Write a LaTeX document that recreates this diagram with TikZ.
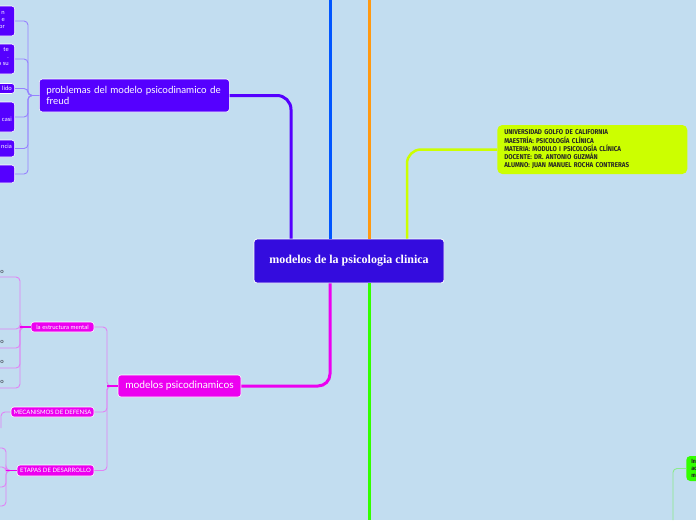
\documentclass[tikz,border=0pt]{standalone}
\usepackage{fontspec}
\setmainfont{Lato}
\newfontfamily\serf{Liberation Serif}
\newfontfamily\condf[FakeStretch=0.89]{Fira Sans}
\definecolor{bg}{RGB}{194,221,240}
\definecolor{cent}{RGB}{52,12,222}
\definecolor{vio}{RGB}{85,0,255}
\definecolor{viol}{RGB}{150,130,255}
\definecolor{blu}{RGB}{0,85,255}
\definecolor{ora}{RGB}{255,153,17}
\definecolor{ygr}{RGB}{204,255,0}
\definecolor{mag}{RGB}{236,0,240}
\definecolor{magl}{RGB}{225,130,245}
\definecolor{grn}{RGB}{51,255,0}
\definecolor{grnl}{RGB}{140,235,140}
\definecolor{leaftxt}{RGB}{50,50,60}
\tikzset{
  x=1pt,y=-1pt,
  box/.style={rounded corners=3pt, draw=white, line width=0.6pt, inner sep=0pt},
  vbox/.style={box, fill=vio, text=white, font=\fontsize{6}{7}\selectfont},
  mbox/.style={box, fill=mag, text=white, font=\fontsize{6}{7}\selectfont},
  thick line/.style={line width=3pt, line cap=butt},
  thin line/.style={line width=0.9pt, rounded corners=4pt},
  leaf/.style={inner sep=0pt, text=leaftxt, font=\fontsize{6}{7}\selectfont},
  frag/.style={inner sep=0pt, text=white, align=right, font=\fontsize{6}{7}\selectfont},
}
\begin{document}
\begin{tikzpicture}
\useasboundingbox (0,0) rectangle (696,520);
\fill[bg] (0,0) rectangle (696,520);
\clip (0,0) rectangle (696,520);

% coordinates for x positions / free ends
\coordinate (xp) at (291,0);
\coordinate (bt) at (330,0);
\coordinate (ot) at (369,0);
\coordinate (xy) at (407,0);
\coordinate (gb) at (369,520);

% central node
\node[box, fill=cent, line width=0.8pt, minimum width=190, minimum height=44,
      text=white, font=\serf\bfseries\fontsize{12}{14}\selectfont] (c) at (349,261)
      {modelos de la psicologia clinica};

% main branches
\node[box, fill=vio, minimum width=190, minimum height=33, anchor=west,
      text=white, align=left, text width=176, inner xsep=7pt,
      font=\fontsize{9.8}{11}\selectfont] (p) at (39,95.5)
      {problemas del modelo psicodinamico de freud};
\node[box, fill=mag, minimum width=123, minimum height=22,
      text=white, font=\fontsize{10.2}{12}\selectfont] (m) at (179.5,386)
      {modelos psicodinamicos};
\node[box, draw=none, fill=ygr, rounded corners=5pt, minimum width=190, minimum height=49,
      anchor=west, align=left, text width=176, inner xsep=7pt,
      text=black!85, font=\condf\bfseries\fontsize{7}{8.3}\selectfont] (u) at (497,149.5)
      {UNIVERSIDAD GOLFO DE CALIFORNIA\\
       MAESTRÍA: PSICOLOGÍA CLÍNICA\\
       MATERIA: MODULO I PSICOLOGÍA CLÍNICA\\
       DOCENTE: DR. ANTONIO GUZMÁN\\
       ALUMNO: JUAN MANUEL ROCHA CONTRERAS};
\node[box, draw=none, fill=grn, rounded corners=4pt, minimum width=30, minimum height=25,
      anchor=west, align=left, text width=20, inner xsep=3pt,
      text=black!85, font=\condf\bfseries\fontsize{6}{7}\selectfont] (g) at (686,468.5)
      {In\\ac\\mo};

\draw[thick line, vio, rounded corners=14pt] (c.north -| xp) |- (p.east);
\draw[thick line, blu] (c.north -| bt) -- (bt);
\draw[thick line, ora] (c.north -| ot) -- (ot);
\draw[thick line, ygr, line width=2.5pt, rounded corners=14pt] (c.north -| xy) |- (u.west);
\draw[thick line, mag, rounded corners=12pt] (c.south -| bt) |- (m.east);
\draw[thick line, grn] (c.south -| ot) -- (gb);
\coordinate (gd) at (673,520);
\draw[thin line, grnl] (g.west) -| (gd);

% children of problemas
\coordinate (pb) at (28,0);
\node[vbox, minimum width=40, minimum height=30, anchor=east] (a1) at (15,21) {};
\node[frag, anchor=east] (t1) at (5,20) {n\\e\\or};
\node[vbox, minimum width=40, minimum height=30, anchor=east] (a2) at (15,59) {};
\node[frag, anchor=east] (t2) at (9,57) {te\\.\\o su};
\node[vbox, minimum width=40, minimum height=10, anchor=east] (a3) at (15,88.5) {};
\node[frag, anchor=east] (t3) at (12,88.5) {lido};
\node[vbox, minimum width=40, minimum height=30, anchor=east] (a4) at (15,117) {};
\node[frag, anchor=east] (t4) at (12,119.5) {casi};
\node[vbox, minimum width=40, minimum height=17, anchor=east] (a5) at (15,148.5) {};
\node[frag, anchor=east] (t5) at (12,146.5) {ncia};
\node[vbox, minimum width=40, minimum height=18, anchor=east] (a6) at (15,174) {};
\foreach \k in {1,...,6}{
  \draw[thin line, viol] (p.west) -- (p.west -| pb) |- (a\k.east);
}

% children of modelos psicodinamicos
\coordinate (mb) at (107,0);
\node[mbox, minimum width=63, minimum height=10] (k1) at (62.5,327) {la estructura mental};
\node[mbox, minimum width=83, minimum height=10] (k2) at (52.5,412) {MECANISMOS DE DEFENSA};
\node[mbox, minimum width=77, minimum height=11] (k3) at (55.5,470.5) {ETAPAS DE DESARROLLO};
\foreach \k in {1,2,3}{
  \draw[thin line, magl] (m.west) -- (m.west -| mb) |- (k\k.east);
}
\draw[line width=1.4pt, mag] (m.west) -- (m.west -| mb);

% leaves of la estructura mental
\coordinate (eb) at (20,0);
\coordinate (e1) at (0,277);
\coordinate (e2) at (0,329);
\coordinate (e3) at (0,348);
\coordinate (e4) at (0,368);
\coordinate (e5) at (0,388);
\foreach \k in {1,...,5}{
  \draw[thin line, magl] (k1.west) -- (k1.west -| eb) |- (e\k);
}
\draw[line width=1.4pt, mag] (k1.west) -- (k1.west -| eb);
\node[leaf, anchor=east] (o1) at (4,272) {o};
\node[leaf, anchor=east] (o3) at (4,342) {o};
\node[leaf, anchor=east] (o4) at (4,362) {o};
\node[leaf, anchor=east] (o5) at (4,382) {o};

% leaf of mecanismos
\coordinate (d1) at (1,428);
\draw[thin line, magl] (k2.west) -| (d1);

% leaves of etapas
\coordinate (sb) at (6,0);
\coordinate (s1) at (0,448);
\coordinate (s2) at (0,467);
\coordinate (s3) at (0,487);
\coordinate (s4) at (0,506);
\foreach \k in {1,...,4}{
  \draw[thin line, magl] (k3.west) -- (k3.west -| sb) |- (s\k);
}
\draw[line width=1.4pt, mag] (k3.west) -- (k3.west -| sb);
\end{tikzpicture}
\end{document}
